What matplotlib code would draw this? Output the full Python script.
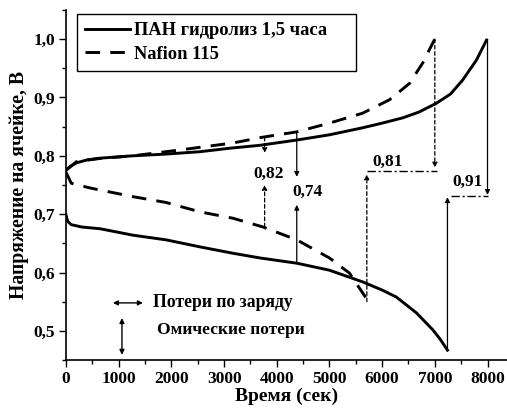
import matplotlib
matplotlib.use("Agg")
import matplotlib.pyplot as plt
from matplotlib.ticker import MultipleLocator, FuncFormatter

# ПАН гидролиз 1,5 часа - заряд / разряд
pan_charge_t = [0, 100, 200, 400, 650, 1270, 1900, 2540, 3110, 3680, 4380, 5000,
                5630, 6000, 6390, 6700, 7030, 7300, 7530, 7790, 7980]
pan_charge_v = [0.776, 0.783, 0.788, 0.793, 0.796, 0.800, 0.803, 0.807, 0.813, 0.818,
                0.827, 0.836, 0.848, 0.856, 0.865, 0.875, 0.890, 0.906, 0.930, 0.964, 0.998]
pan_dis_t = [0, 30, 100, 300, 650, 1270, 1900, 2540, 3170, 3680, 4380, 5000,
             5630, 6000, 6270, 6650, 6960, 7100, 7240]
pan_dis_v = [0.699, 0.688, 0.682, 0.678, 0.675, 0.664, 0.656, 0.644, 0.633, 0.625,
             0.616, 0.604, 0.584, 0.570, 0.558, 0.531, 0.502, 0.486, 0.467]

# Nafion 115
naf_charge_t = [0, 200, 600, 1270, 2160, 3170, 3740, 4380, 5000, 5630, 6140,
                6520, 6770, 6960, 7000]
naf_charge_v = [0.775, 0.790, 0.795, 0.800, 0.810, 0.822, 0.832, 0.841, 0.856,
                0.873, 0.896, 0.924, 0.959, 0.993, 1.0]
naf_dis_t = [0, 100, 450, 1270, 1900, 2540, 3170, 3740, 4380, 5000, 5380, 5720]
naf_dis_v = [0.772, 0.753, 0.745, 0.730, 0.720, 0.704, 0.693, 0.678, 0.656,
             0.625, 0.599, 0.553]

plt.rcParams['font.family'] = ['Liberation Serif', 'DejaVu Serif']
plt.rcParams['font.weight'] = 'bold'

fig = plt.figure(figsize=(5.07, 4.12), dpi=100)
ax = fig.add_axes([66 / 507, 0.126, 1 - 66 / 507, 0.850])

ax.plot(pan_charge_t, pan_charge_v, color='black', lw=2.1, label='ПАН гидролиз 1,5 часа')
ax.plot(pan_dis_t, pan_dis_v, color='black', lw=2.1)
ax.plot(naf_charge_t, naf_charge_v, color='black', lw=2.1, dashes=(5, 3.5), label='Nafion 115')
ax.plot(naf_dis_t, naf_dis_v, color='black', lw=2.1, dashes=(5, 3.5))

ap_solid = dict(arrowstyle='-|>', color='black', lw=0.9, mutation_scale=7, shrinkA=0, shrinkB=0)
ap_dot = dict(arrowstyle='-|>', color='black', lw=0.9, ls=(0, (3, 2)), mutation_scale=7,
              shrinkA=0, shrinkB=0)
lab_fs = 12.5

# 0,82
ax.annotate('', xy=(3770, 0.805), xytext=(3770, 0.832), arrowprops=ap_dot)
ax.annotate('', xy=(3770, 0.750), xytext=(3770, 0.678), arrowprops=ap_dot)
ax.text(3840, 0.769, '0,82', ha='center', va='center', fontsize=lab_fs, fontweight='bold')

# 0,74
ax.annotate('', xy=(4380, 0.764), xytext=(4380, 0.841), arrowprops=ap_solid)
ax.annotate('', xy=(4380, 0.716), xytext=(4380, 0.616), arrowprops=ap_solid)
ax.text(4580, 0.738, '0,74', ha='center', va='center', fontsize=lab_fs, fontweight='bold')

# 0,81
ax.annotate('', xy=(5710, 0.768), xytext=(5710, 0.550), arrowprops=ap_dot)
ax.plot([5720, 7050], [0.774, 0.774], color='black', lw=1.0, ls=(0, (6, 2, 1.5, 2)))
ax.annotate('', xy=(7000, 0.780), xytext=(7000, 1.0), arrowprops=ap_dot)
ax.text(6100, 0.790, '0,81', ha='center', va='center', fontsize=lab_fs, fontweight='bold')

# 0,91
ax.annotate('', xy=(7240, 0.729), xytext=(7240, 0.467), arrowprops=ap_solid)
ax.plot([7300, 8000], [0.731, 0.731], color='black', lw=1.0, ls=(0, (6, 2, 1.5, 2)))
ax.annotate('', xy=(8000, 0.733), xytext=(8000, 1.0), arrowprops=ap_solid)
ax.text(7620, 0.756, '0,91', ha='center', va='center', fontsize=lab_fs, fontweight='bold')

# пояснения
ax.annotate('', xy=(890, 0.548), xytext=(1460, 0.548),
            arrowprops=dict(arrowstyle='<|-|>', color='black', lw=1.0, mutation_scale=7,
                            shrinkA=0, shrinkB=0))
ax.text(1650, 0.548, 'Потери по заряду', ha='left', va='center', fontsize=12.7, fontweight='bold')
ax.annotate('', xy=(1062, 0.522), xytext=(1062, 0.459),
            arrowprops=dict(arrowstyle='<|-|>', color='black', lw=1.0, mutation_scale=7,
                            shrinkA=0, shrinkB=0))
ax.text(1725, 0.502, 'Омические потери', ha='left', va='center', fontsize=12.5, fontweight='bold')

ax.set_xlim(0, 8370)
ax.set_ylim(0.45, 1.05)
ax.xaxis.set_major_locator(MultipleLocator(1000))
ax.xaxis.set_minor_locator(MultipleLocator(500))
ax.yaxis.set_major_locator(MultipleLocator(0.1))
ax.yaxis.set_minor_locator(MultipleLocator(0.05))
ax.yaxis.set_major_formatter(FuncFormatter(lambda v, p: f'{v:.1f}'.replace('.', ',')))
ax.tick_params(which='major', direction='out', length=5, width=1, labelsize=12.5, pad=3)
ax.tick_params(which='minor', direction='out', length=3, width=1)
ax.spines['top'].set_visible(False)
ax.spines['right'].set_visible(False)
for s in ('left', 'bottom'):
    ax.spines[s].set_linewidth(1.2)

ax.set_xlabel('Время (сек)', fontsize=14, fontweight='bold', labelpad=0)
ax.set_ylabel('Напряжение на ячейке, В', fontsize=14.2, fontweight='bold', labelpad=3)

leg = ax.legend(loc='upper left', bbox_to_anchor=(0.025, 0.829, 0.633, 0.16), mode='expand',
                borderaxespad=0, fancybox=False, edgecolor='black', framealpha=1, fontsize=13.3,
                handlelength=2.4, handletextpad=0.25, borderpad=0.45, labelspacing=0.35)
leg.get_frame().set_linewidth(1.0)

fig.savefig('out.png', dpi=100)
